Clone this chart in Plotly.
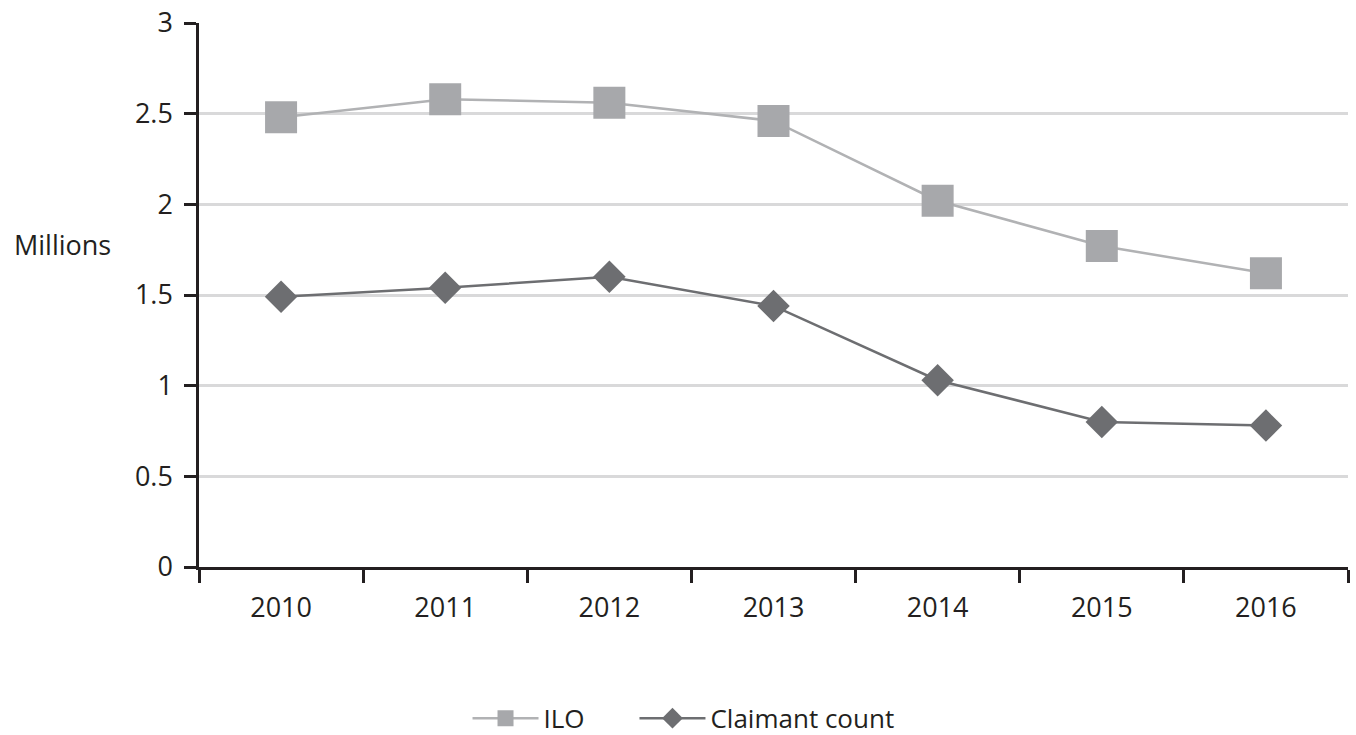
import plotly.graph_objects as go

years = ["2010", "2011", "2012", "2013", "2014", "2015", "2016"]
ilo = [2.48, 2.58, 2.56, 2.46, 2.02, 1.77, 1.62]
claimant = [1.49, 1.54, 1.60, 1.44, 1.03, 0.80, 0.78]
y_ticks = [0, 0.5, 1, 1.5, 2, 2.5, 3]
y_ticklabels = ["0", "0.5", "1", "1.5", "2", "2.5", "3"]

FONT = "Open Sans"
AXIS = "#231f20"

fig = go.Figure()
fig.add_trace(go.Scatter(
    x=years, y=ilo, name="ILO", mode="lines+markers", legend="legend",
    line=dict(color="#b1b2b4", width=2.5),
    marker=dict(symbol="square", size=32, color="#a7a8ab"),
))
fig.add_trace(go.Scatter(
    x=years, y=claimant, name="Claimant count", mode="lines+markers", legend="legend2",
    line=dict(color="#6d6e71", width=2.5),
    marker=dict(symbol="diamond", size=25, color="#6d6e71"),
))

leg_common = dict(orientation="h", xanchor="left", y=-0.278, yanchor="middle",
                  font=dict(size=26), itemwidth=66, bgcolor="rgba(0,0,0,0)")

fig.update_layout(
    width=1356, height=735,
    margin=dict(l=199, r=8, t=23, b=168, autoexpand=False),
    paper_bgcolor="white", plot_bgcolor="white",
    font=dict(family=FONT, size=27, color=AXIS),
    showlegend=True,
    legend=dict(x=0.2337, **leg_common),
    legend2=dict(x=0.379, **leg_common),
    xaxis=dict(
        type="category", range=[-0.5, 6.5], showgrid=False,
        showline=True, linecolor=AXIS, linewidth=2.5,
        ticks="outside", tickson="boundaries", ticklen=13, tickwidth=2.5, tickcolor=AXIS,
        tickfont=dict(size=27), ticklabelstandoff=15, zeroline=False, automargin=False,
    ),
    yaxis=dict(
        range=[0, 3], tickvals=y_ticks, ticktext=y_ticklabels,
        showgrid=True, gridcolor="#d9d9da", gridwidth=2.5,
        showline=True, linecolor=AXIS, linewidth=2.5,
        ticks="outside", ticklen=12, tickwidth=2.5, tickcolor=AXIS,
        tickfont=dict(size=27), ticklabelstandoff=6, zeroline=False, automargin=False,
    ),
    annotations=[dict(
        text="Millions", xref="paper", yref="y", x=-0.163, y=1.78,
        xanchor="left", yanchor="middle", showarrow=False, font=dict(size=27, color=AXIS),
    )],
)

fig.write_html("out.html", config={"displayModeBar": False},
               post_script="document.body.style.margin='0';")
